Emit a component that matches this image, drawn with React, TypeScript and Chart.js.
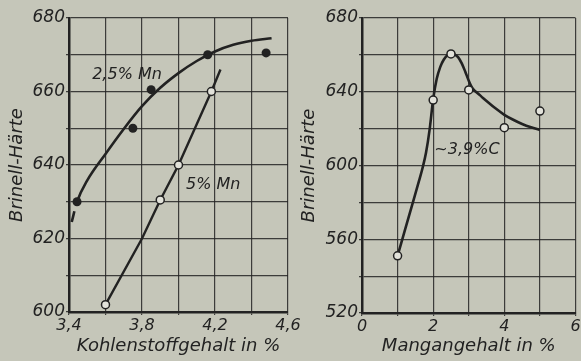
import React, { useEffect, useRef } from 'react';
import { Chart, registerables } from 'chart.js';

Chart.register(...registerables);

// ---------- Left chart: Brinell hardness vs. carbon content ----------
const curve25X = [3.415, 3.444, 3.5, 3.6, 3.7, 3.8, 3.9, 4.0, 4.1, 4.2, 4.3, 4.4, 4.51];
const curve25Y = [624.5, 630, 635.8, 643, 649.8, 656, 661, 665, 668.3, 670.9, 672.7, 673.8, 674.5];
const points25X = [3.444, 3.75, 3.85, 4.16, 4.48];
const points25Y = [630, 650, 660.5, 670, 670.5];
const line5X = [3.6, 3.8, 3.9, 4.0, 4.18, 4.23];
const line5Y = [602, 620, 630.5, 640, 660, 666];
const points5X = [3.6, 3.9, 4.0, 4.18];
const points5Y = [602, 630.5, 640, 660];

const carbonTickValues = [3.4, 3.8, 4.2, 4.6];
const carbonTickLabels = ['3,4', '3,8', '4,2', '4,6'];
const hardnessLeftTickValues = [600, 620, 640, 660, 680];
const hardnessLeftTickLabels = ['600', '620', '640', '660', '680'];

const leftNoteTexts = ['2,5% Mn', '5% Mn'];
const leftNoteX = [3.718, 4.19];
const leftNoteY = [664.5, 634.5];

// ---------- Right chart: Brinell hardness vs. manganese content ----------
const mnCurveX = [1.0, 1.2, 1.4, 1.6, 1.7, 1.8, 1.9, 2.0, 2.1, 2.2, 2.3, 2.4, 2.5, 2.6, 2.7, 2.8, 2.9, 3.0, 3.1, 3.2, 3.35, 3.5, 3.75, 4.0, 4.25, 4.5, 4.75, 5.0];
const mnCurveY = [551, 564.5, 578, 591.5, 598.5, 607, 619.5, 636, 647, 653.5, 657.5, 659.8, 660.8, 660.3, 658.8, 655.5, 651, 646, 642, 640, 637.5, 635, 631, 627.5, 624.8, 622.5, 620.7, 619.3];
const mnPointsX = [1, 2, 2.5, 3, 4, 5];
const mnPointsY = [551, 635.5, 660.5, 641, 620.5, 629.5];

const mnTickValues = [0, 2, 4, 6];
const mnTickLabels = ['0', '2', '4', '6'];
const hardnessRightTickValues = [520, 560, 600, 640, 680];
const hardnessRightTickLabels = ['520', '560', '600', '640', '680'];

const rightNoteTexts = ['~3,9%C'];
const rightNoteX = [2.95];
const rightNoteY = [608.5];

// ---------- styling ----------
const W = 581;
const H = 361;
const BG = '#c5c6b9';
const INK = '#222222';
const GRID = 'rgba(35,35,35,0.85)';
const FONT = 'DejaVu Sans';

const zip = (xs: number[], ys: number[]) => xs.map((x, i) => ({ x, y: ys[i] }));

const labelFor = (vals: number[], labels: string[]) => (value: any) => {
  const v = Number(value);
  const i = vals.findIndex((t) => Math.abs(t - v) < 1e-6);
  return i >= 0 ? labels[i] : '';
};

const notesPlugin = (texts: string[], xs: number[], ys: number[]) => ({
  id: 'notes',
  afterDatasetsDraw(chart: any) {
    const ctx = chart.ctx;
    const sx = chart.scales.x;
    const sy = chart.scales.y;
    ctx.save();
    ctx.fillStyle = INK;
    ctx.font = `italic 16px "${FONT}"`;
    ctx.textAlign = 'center';
    ctx.textBaseline = 'middle';
    texts.forEach((t, i) => {
      ctx.fillText(t, sx.getPixelForValue(xs[i]), sy.getPixelForValue(ys[i]));
    });
    ctx.restore();
  },
});

function makeScales(opts: {
  xmin: number; xmax: number; xstep: number; xVals: number[]; xLabels: string[]; xTitle: string; xHeight: number;
  ymin: number; ymax: number; ystep: number; yVals: number[]; yLabels: string[]; yWidth: number; yTitlePad: number;
}) {
  return {
    x: {
      type: 'linear',
      min: opts.xmin,
      max: opts.xmax,
      ticks: {
        stepSize: opts.xstep,
        autoSkip: false,
        maxRotation: 0,
        minRotation: 0,
        color: INK,
        padding: 1,
        font: { family: FONT, size: 16, style: 'italic' },
        callback: labelFor(opts.xVals, opts.xLabels),
      },
      grid: { color: GRID, lineWidth: 1.2, tickLength: 3 },
      border: { color: INK, width: 2.5 },
      title: {
        display: true,
        text: opts.xTitle,
        color: INK,
        font: { family: FONT, size: 18, style: 'italic' },
        padding: { top: 0, bottom: 4 },
      },
      afterFit: (s: any) => {
        s.height = opts.xHeight;
        s.paddingLeft = 0;
        s.paddingRight = 0;
      },
    },
    y: {
      type: 'linear',
      min: opts.ymin,
      max: opts.ymax,
      ticks: {
        stepSize: opts.ystep,
        autoSkip: false,
        color: INK,
        padding: 1,
        font: { family: FONT, size: 17, style: 'italic' },
        callback: labelFor(opts.yVals, opts.yLabels),
      },
      grid: { color: GRID, lineWidth: 1.2, tickLength: 3 },
      border: { color: INK, width: 2.5 },
      title: {
        display: true,
        text: 'Brinell-Härte',
        color: INK,
        font: { family: FONT, size: 18, style: 'italic' },
        padding: { top: opts.yTitlePad, bottom: 0 },
      },
      afterFit: (s: any) => {
        s.width = opts.yWidth;
        s.paddingTop = 0;
        s.paddingBottom = 0;
      },
    },
  };
}

export default function App() {
  const leftRef = useRef<HTMLCanvasElement | null>(null);
  const rightRef = useRef<HTMLCanvasElement | null>(null);

  useEffect(() => {
    const left = new Chart(leftRef.current as HTMLCanvasElement, {
      type: 'scatter',
      data: {
        datasets: [
          {
            data: zip(points25X, points25Y),
            pointRadius: 4.5,
            pointBackgroundColor: INK,
            pointBorderColor: INK,
            pointBorderWidth: 0,
            showLine: false,
          },
          {
            data: zip(points5X, points5Y),
            pointRadius: 4,
            pointBackgroundColor: '#e2e2da',
            pointBorderColor: INK,
            pointBorderWidth: 1.5,
            showLine: false,
          },
          {
            data: zip(curve25X, curve25Y),
            showLine: true,
            pointRadius: 0,
            borderColor: INK,
            borderWidth: 2.6,
            cubicInterpolationMode: 'monotone',
            segment: {
              borderDash: (ctx: any) => (ctx.p0.parsed.x < 3.44 ? [11, 7] : undefined),
            },
          },
          {
            data: zip(line5X, line5Y),
            showLine: true,
            pointRadius: 0,
            borderColor: INK,
            borderWidth: 2.4,
            tension: 0,
          },
        ],
      },
      options: {
        animation: false,
        responsive: false,
        layout: { padding: { left: 0, top: 18, right: W - 288, bottom: 0 } },
        plugins: { legend: { display: false }, tooltip: { enabled: false } },
        scales: makeScales({
          xmin: 3.4, xmax: 4.6, xstep: 0.2, xVals: carbonTickValues, xLabels: carbonTickLabels,
          xTitle: 'Kohlenstoffgehalt in %', xHeight: H - 312,
          ymin: 600, ymax: 680, ystep: 10, yVals: hardnessLeftTickValues, yLabels: hardnessLeftTickLabels,
          yWidth: 69, yTitlePad: 7,
        }) as any,
      },
      plugins: [notesPlugin(leftNoteTexts, leftNoteX, leftNoteY)],
    } as any);

    const right = new Chart(rightRef.current as HTMLCanvasElement, {
      type: 'scatter',
      data: {
        datasets: [
          {
            data: zip(mnPointsX, mnPointsY),
            pointRadius: 4,
            pointBackgroundColor: '#e2e2da',
            pointBorderColor: INK,
            pointBorderWidth: 1.5,
            showLine: false,
          },
          {
            data: zip(mnCurveX, mnCurveY),
            showLine: true,
            pointRadius: 0,
            borderColor: INK,
            borderWidth: 2.6,
            cubicInterpolationMode: 'monotone',
          },
        ],
      },
      options: {
        animation: false,
        responsive: false,
        layout: { padding: { left: 290, top: 18, right: 0, bottom: 0 } },
        plugins: { legend: { display: false }, tooltip: { enabled: false } },
        scales: makeScales({
          xmin: 0, xmax: 6, xstep: 1, xVals: mnTickValues, xLabels: mnTickLabels,
          xTitle: 'Mangangehalt in %', xHeight: H - 313,
          ymin: 520, ymax: 680, ystep: 20, yVals: hardnessRightTickValues, yLabels: hardnessRightTickLabels,
          yWidth: 72, yTitlePad: 9,
        }) as any,
      },
      plugins: [notesPlugin(rightNoteTexts, rightNoteX, rightNoteY)],
    } as any);

    return () => {
      left.destroy();
      right.destroy();
    };
  }, []);

  const canvasStyle: React.CSSProperties = { position: 'absolute', left: 0, top: 0, display: 'block' };

  return (
    <div style={{ position: 'absolute', left: 0, top: 0, width: W, height: H, background: BG, overflow: 'hidden' }}>
      <canvas ref={leftRef} width={W} height={H} style={canvasStyle} />
      <canvas ref={rightRef} width={W} height={H} style={canvasStyle} />
    </div>
  );
}
